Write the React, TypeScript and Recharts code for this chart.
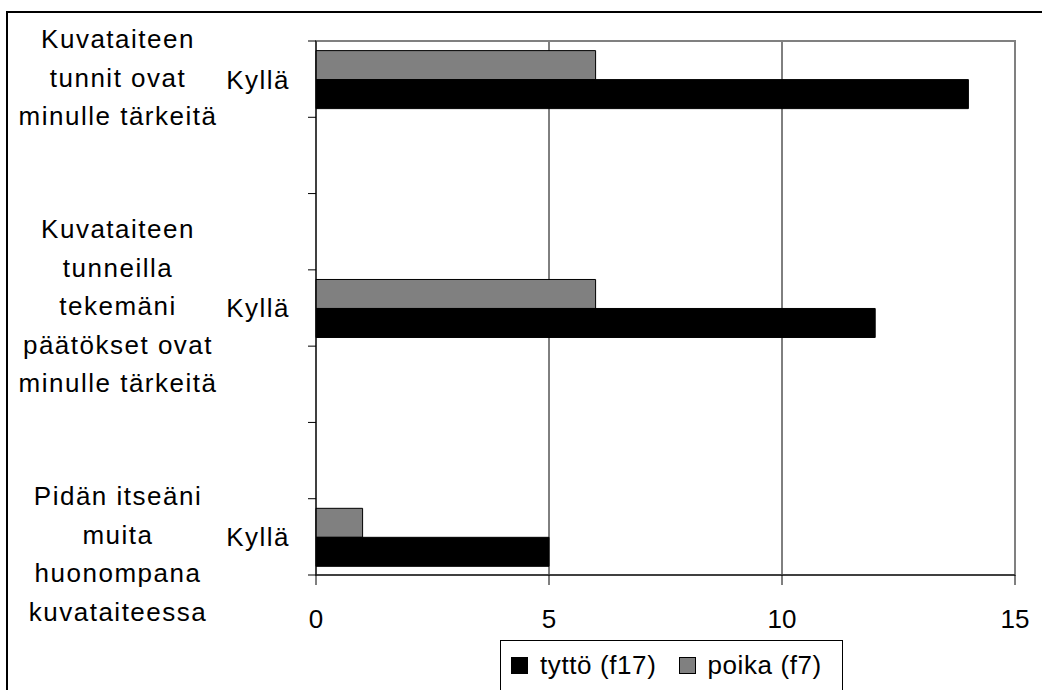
import React from "react";
import {
  Bar,
  BarChart,
  CartesianGrid,
  ReferenceArea,
  XAxis,
  YAxis,
} from "recharts";

const answers = ["Kyllä", "Kyllä", "Kyllä"];
const statements = [
  ["Kuvataiteen", "tunnit ovat", "minulle tärkeitä"],
  ["Kuvataiteen", "tunneilla", "tekemäni", "päätökset ovat", "minulle tärkeitä"],
  ["Pidän itseäni", "muita", "huonompana", "kuvataiteessa"],
];
const tyttoValues = [14, 12, 5];
const poikaValues = [6, 6, 1];
const xTicks = [0, 5, 10, 15];

const FONT = '"Liberation Sans", Arial, sans-serif';
const FS = 26;
const LS = 1.5;

const W = 1042;
const H = 690;
const M = { top: 41, right: 27, bottom: 55, left: 0 };
const Y_AXIS_W = 316;
const X_AXIS_H = 60;

// two empty category slots between each statement, like the original
type Row = {
  key: string;
  answer: string;
  lines: string[] | null;
  tytto: number | null;
  poika: number | null;
};
const rows: Row[] = [];
answers.forEach((a, i) => {
  rows.push({ key: `c${i}`, answer: a, lines: statements[i], tytto: tyttoValues[i], poika: poikaValues[i] });
  if (i < answers.length - 1) {
    rows.push({ key: `e${i}a`, answer: "", lines: null, tytto: null, poika: null });
    rows.push({ key: `e${i}b`, answer: "", lines: null, tytto: null, poika: null });
  }
});

const BAND = (H - M.top - M.bottom - X_AXIS_H) / rows.length;

// Excel style: tick marks sit between categories, not on them
const CategoryTick = (props: any) => {
  const { y, index } = props;
  const row = rows[index];
  if (!row) return null;
  const lineH = 38.5;
  const shift = index === rows.length - 1 ? 17 : -2;
  const lines = row.lines || [];
  const top = y + shift - ((lines.length - 1) / 2) * lineH;
  const ax = M.left + Y_AXIS_W;
  return (
    <g>
      <line x1={ax - 8} x2={ax} y1={y - BAND / 2} y2={y - BAND / 2} stroke="#000" />
      {index === rows.length - 1 && (
        <line x1={ax - 8} x2={ax} y1={y + BAND / 2} y2={y + BAND / 2} stroke="#000" />
      )}
      <text x={ax - 26} y={y} dy="0.36em" textAnchor="end" fontSize={FS} fontFamily={FONT} letterSpacing={LS} fill="#000">
        {row.answer}
      </text>
      {lines.map((l, i) => (
        <text
          key={i}
          x={118}
          y={top + i * lineH}
          dy="0.36em"
          textAnchor="middle"
          fontSize={FS}
          fontFamily={FONT}
          letterSpacing={LS}
          fill="#000"
        >
          {l}
        </text>
      ))}
    </g>
  );
};

const Swatch = ({ color }: { color: string }) => (
  <span
    style={{
      display: "inline-block",
      width: 15,
      height: 15,
      background: color,
      border: "1px solid #000",
    }}
  />
);

export default function App() {
  return (
    <div
      style={{
        position: "absolute",
        left: 0,
        top: 0,
        width: W,
        height: H,
        overflow: "hidden",
        background: "#fff",
      }}
    >
      <div
        style={{
          position: "absolute",
          left: 6,
          top: 11,
          width: 1100,
          height: 800,
          border: "2px solid #000",
        }}
      />
      <BarChart
        width={W}
        height={H}
        data={rows}
        layout="vertical"
        margin={M}
        barCategoryGap="12.6%"
        barGap={0}
        style={{ position: "absolute", left: 0, top: 0 }}
      >
        <CartesianGrid horizontal={false} stroke="#000" strokeWidth={1} />
        <ReferenceArea x1={0} x2={15} fill="none" stroke="#808080" strokeWidth={2} />
        <XAxis
          type="number"
          domain={[0, 15]}
          ticks={xTicks}
          height={X_AXIS_H}
          tickSize={10}
          tickMargin={25}
          stroke="#000"
          tick={{ fill: "#000", fontSize: FS, fontFamily: FONT }}
        />
        <YAxis
          type="category"
          dataKey="key"
          width={Y_AXIS_W}
          tickLine={false}
          stroke="#000"
          interval={0}
          tick={<CategoryTick />}
        />
        <Bar dataKey="poika" fill="#808080" stroke="#000" strokeWidth={1} isAnimationActive={false} />
        <Bar dataKey="tytto" fill="#000" stroke="#000" strokeWidth={1} isAnimationActive={false} />
      </BarChart>
      <div
        style={{
          position: "absolute",
          left: 500,
          top: 640,
          width: 343,
          height: 80,
          border: "1px solid #000",
          boxSizing: "border-box",
          fontFamily: FONT,
          fontSize: FS,
          letterSpacing: 0.6,
          color: "#000",
          background: "#fff",
        }}
      >
        <div style={{ position: "absolute", left: 10, top: 9, display: "flex", alignItems: "center", whiteSpace: "nowrap" }}>
          <Swatch color="#000" />
          <span style={{ marginLeft: 12 }}>tyttö (f17)</span>
          <span style={{ marginLeft: 23, display: "inline-flex", alignItems: "center" }}>
            <Swatch color="#808080" />
          </span>
          <span style={{ marginLeft: 11 }}>poika (f7)</span>
        </div>
      </div>
    </div>
  );
}
